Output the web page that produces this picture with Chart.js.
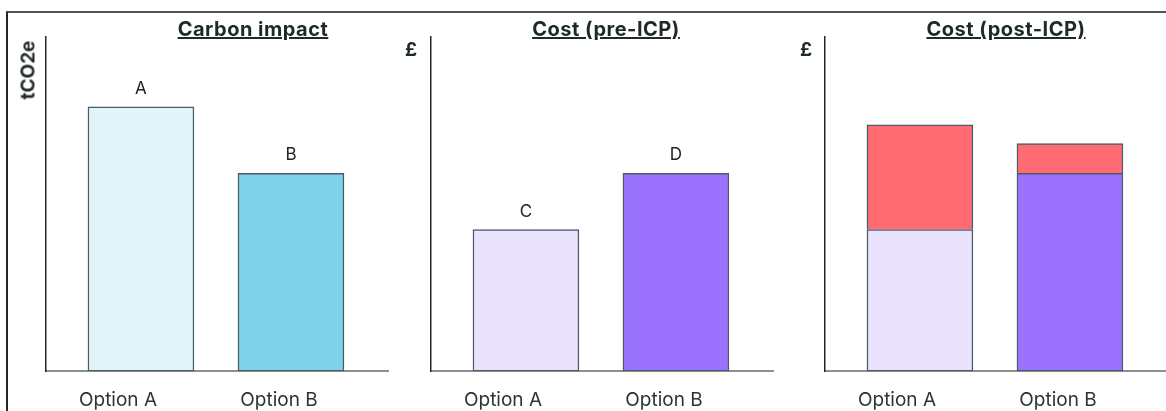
<!DOCTYPE html>
<html>
<head>
<meta charset="utf-8">
<script src="https://cdn.jsdelivr.net/npm/chart.js@4.4.1/dist/chart.umd.min.js"></script>
<style>
  body { margin: 0; width: 1166px; height: 411px; overflow: hidden; background: #fff; position: relative; font-family: Inter, sans-serif; }
  .frame { position: absolute; left: 6px; top: 11px; width: 1200px; height: 420px; border-top: 2px solid #4a5652; border-left: 2px solid #1e2a28; }
  .panel { position: absolute; top: 0; width: 390px; height: 430px; }
  .panel canvas { width: 390px; height: 430px; }
  .title { position: absolute; top: 17px; font-size: 20px; letter-spacing: 0.5px; font-weight: 700; color: #1d2a28; text-decoration: underline; transform: translateX(-50%); white-space: nowrap; }
  .unit { position: absolute; font-size: 19px; font-weight: 700; color: #1d2a28; line-height: 19px; white-space: nowrap; transform: translate(-50%, -50%); }
  .unit.rot { transform: translate(-50%, -50%) rotate(-90deg); }
</style>
</head>
<body>
<div class="frame"></div>

<div class="panel" style="left:0"><canvas id="carbon" width="390" height="430"></canvas></div>
<div class="panel" style="left:385px"><canvas id="costPre" width="390" height="430"></canvas></div>
<div class="panel" style="left:779px"><canvas id="costPost" width="390" height="430"></canvas></div>

<div class="title" style="left:253px">Carbon impact</div>
<div class="title" style="left:606px">Cost (pre-ICP)</div>
<div class="title" style="left:1006px">Cost (post-ICP)</div>

<div class="unit rot" style="left:28px; top:70px">tCO2e</div>
<div class="unit" style="left:411px; top:49px">£</div>
<div class="unit" style="left:806px; top:49px">£</div>

<script>
// categories and values (arbitrary units, axis has no ticks)
const options = ["Option A", "Option B"];
const carbon = [79.1, 59.2];
const carbonTags = ["A", "B"];
const costPre = [42.4, 59.2];
const costTags = ["C", "D"];
const carbonCost = [31.3, 8.9];   // internal carbon price added on top

const EDGE = "#4b5c68";

// turn a value list into {x, y} points, one slot per option
const pts = vals => vals.map((v, i) => ({ x: i + 1, y: v }));

// letters above the first dataset's bars
const barTags = {
  id: "barTags",
  afterDatasetsDraw(chart, args, opts) {
    if (!opts.tags) return;
    const ctx = chart.ctx;
    ctx.save();
    ctx.font = "17px Inter";
    ctx.fillStyle = "#222";
    ctx.textAlign = "center";
    ctx.textBaseline = "middle";
    chart.getDatasetMeta(0).data.forEach((bar, i) => {
      ctx.fillText(opts.tags[i], bar.x, bar.y - 18);
    });
    ctx.restore();
  }
};
Chart.register(barTags);

function panel(id, datasets, tags) {
  return new Chart(document.getElementById(id), {
    type: "bar",
    data: { datasets },
    options: {
      responsive: false,
      maintainAspectRatio: false,
      animation: false,
      layout: { padding: { left: 46, right: 2, top: 37, bottom: 0 } },
      datasets: { bar: { barThickness: 106, borderWidth: 1.5, borderColor: EDGE, borderSkipped: false } },
      scales: {
        x: {
          type: "linear",
          offset: false,
          stacked: true,
          min: 0.367,
          max: 2.647,
          afterBuildTicks: axis => { axis.ticks = [{ value: 0.847 }, { value: 1.92 }]; },
          ticks: {
            callback: (v, i) => options[i],
            padding: 18,
            color: "#2b3533",
            font: { family: "Inter", size: 19 },
            maxRotation: 0
          },
          grid: { display: false, drawTicks: false },
          border: { color: "#8b9190", width: 2 }
        },
        y: {
          stacked: true,
          min: 0,
          max: 100,
          ticks: { display: false },
          grid: { display: false, drawTicks: false },
          border: { color: "#1e2624", width: 1.5 }
        }
      },
      plugins: {
        legend: { display: false },
        tooltip: { enabled: false },
        barTags: { tags }
      }
    }
  });
}

panel("carbon", [
  { data: pts(carbon), backgroundColor: ["#e3f4f9", "#7fd2ea"] }
], carbonTags);

panel("costPre", [
  { data: pts(costPre), backgroundColor: ["#eae3fd", "#9a72fe"] }
], costTags);

// the carbon price segment sits on the base cost, so it shares the base's top edge
panel("costPost", [
  { data: pts(costPre), backgroundColor: ["#eae3fd", "#9a72fe"] },
  { data: pts(carbonCost), backgroundColor: "#ff6b72",
    borderWidth: { top: 1.5, left: 1.5, right: 1.5, bottom: 0 } }
]);
</script>
</body>
</html>
